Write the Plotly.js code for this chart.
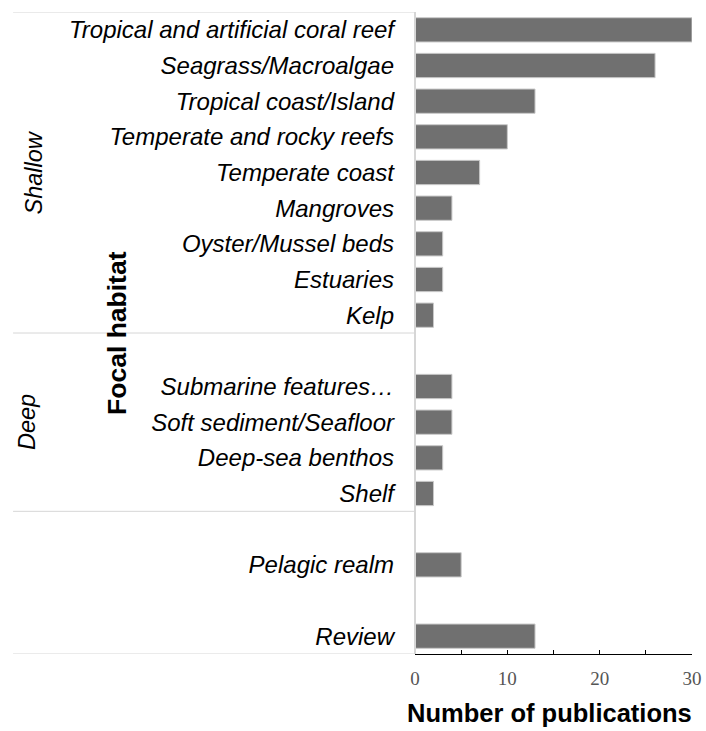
<!DOCTYPE html>
<html>
<head>
<meta charset="utf-8">
<script src="https://cdn.plot.ly/plotly-3.0.1.min.js"></script>
<style>html,body{margin:0;padding:0;background:#fff;}#chart{width:706px;height:731px;}</style>
</head>
<body>
<div id="chart"></div>
<script>
// Habitats (top to bottom) and number of publications
const habitats = [
  "Tropical and artificial coral reef",
  "Seagrass/Macroalgae",
  "Tropical coast/Island",
  "Temperate and rocky reefs",
  "Temperate coast",
  "Mangroves",
  "Oyster/Mussel beds",
  "Estuaries",
  "Kelp",
  "Submarine features…",
  "Soft sediment/Seafloor",
  "Deep-sea benthos",
  "Shelf",
  "Pelagic realm",
  "Review"
];
const publications = [30, 26, 13, 10, 7, 4, 3, 3, 2, 4, 4, 3, 2, 5, 13];
// Full row order including empty spacer rows between groups
const rowOrder = [
  "Tropical and artificial coral reef","Seagrass/Macroalgae","Tropical coast/Island",
  "Temperate and rocky reefs","Temperate coast","Mangroves","Oyster/Mussel beds",
  "Estuaries","Kelp","gap1",
  "Submarine features…","Soft sediment/Seafloor","Deep-sea benthos","Shelf","gap2",
  "Pelagic realm","gap3","Review"
];
const groupLabels = ["Shallow", "Deep"];

const trace = {
  type: "bar",
  orientation: "h",
  x: publications,
  y: habitats,
  width: 0.68,
  marker: {color: "#707070", line: {color: "#c9c9c9", width: 1}},
  hoverinfo: "x+y"
};

const grey = "#d6d6d6";
const labelFont = {family: "Liberation Sans", size: 24, color: "#000", style: "italic"};
const groupFont = {family: "Liberation Sans", size: 23.5, color: "#000", style: "italic"};
const layout = {
  width: 706, height: 731,
  margin: {l: 415, r: 14, t: 12, b: 77},
  paper_bgcolor: "#fff", plot_bgcolor: "#fff",
  showlegend: false,
  xaxis: {
    range: [0, 30], dtick: 10, tick0: 0,
    showgrid: false, zeroline: false,
    showline: true, linecolor: "#000", linewidth: 1,
    ticks: "inside", ticklen: 4, tickcolor: "#000",
    minor: {dtick: 5, ticks: "inside", ticklen: 4, tickcolor: "#000", showgrid: false},
    tickfont: {family: "Liberation Serif", size: 19, color: "#555"},
    ticklabelstandoff: 7,
    fixedrange: true
  },
  yaxis: {
    type: "category", categoryorder: "array", categoryarray: rowOrder,
    range: [17.5, -0.5],
    tickmode: "array", tickvals: habitats, ticktext: habitats,
    ticks: "", showgrid: false, zeroline: false,
    showline: false,
    tickfont: labelFont,
    ticklabelstandoff: 20,
    fixedrange: true
  },
  shapes: [
    {type: "line", xref: "paper", yref: "y", x0: -1.451, x1: 0, y0: -0.5, y1: -0.5, line: {color: grey, width: 1}},
    {type: "line", xref: "paper", yref: "y", x0: -1.451, x1: 0, y0: 8.5, y1: 8.5, line: {color: grey, width: 1}},
    {type: "line", xref: "paper", yref: "y", x0: -1.451, x1: 0, y0: 13.5, y1: 13.5, line: {color: grey, width: 1}},
    {type: "line", xref: "paper", yref: "y", x0: -1.451, x1: 0, y0: 17.5, y1: 17.5, line: {color: grey, width: 1}},
    {type: "line", xref: "paper", yref: "y", x0: 0, x1: 0, y0: -0.5, y1: 17.5, line: {color: grey, width: 2}}
  ],
  annotations: [
    {text: groupLabels[0], xref: "paper", yref: "y", x: -1.379, y: 4, textangle: -90,
     showarrow: false, xanchor: "center", yanchor: "middle", font: groupFont},
    {text: groupLabels[1], xref: "paper", yref: "y", x: -1.401, y: 11, textangle: -90,
     showarrow: false, xanchor: "center", yanchor: "middle", font: groupFont},
    {text: "<b>Focal habitat</b>", xref: "paper", yref: "y", x: -1.076, y: 8.5, textangle: -90,
     showarrow: false, xanchor: "center", yanchor: "middle",
     font: {family: "Liberation Sans", size: 26.5, color: "#000"}},
    {text: "<b>Number of publications</b>", xref: "paper", yref: "paper", x: 0.487, y: -0.092,
     showarrow: false, xanchor: "center", yanchor: "middle", borderpad: 0,
     font: {family: "Liberation Sans", size: 25.5, color: "#000"}}
  ]
};

Plotly.newPlot("chart", [trace], layout, {displayModeBar: false, staticPlot: true});
</script>
</body>
</html>
